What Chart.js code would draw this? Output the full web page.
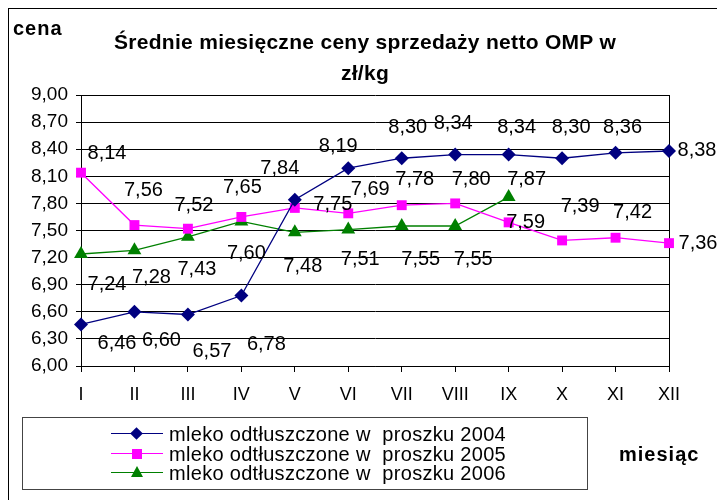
<!DOCTYPE html>
<html>
<head>
<meta charset="utf-8">
<script src="https://cdn.jsdelivr.net/npm/chart.js@4"></script>
<style>
  html, body { margin: 0; padding: 0; background: #fff; }
  #wrap { position: relative; width: 717px; height: 500px; overflow: hidden; font-family: "Liberation Sans", Arial, sans-serif; color: #000; }
  #frame { position: absolute; left: 8px; top: 8px; width: 800px; height: 600px; border-left: 1px solid #000; border-top: 1px solid #000; }
  canvas { position: absolute; left: 0; top: 0; }
  .title { position: absolute; left: 0; width: 730px; text-align: center; font-weight: bold; font-size: 21px; letter-spacing: 0.3px; }
  .ax { position: absolute; font-weight: bold; font-size: 20px; letter-spacing: 1px; }
  #legend { position: absolute; left: 22px; top: 417px; width: 564px; height: 71px; border: 1px solid #444; }
  .row { position: absolute; left: 88px; height: 20px; font-size: 20px; line-height: 20px; white-space: pre; letter-spacing: 0.3px; }
  .row .ln { position: absolute; left: 0; top: 9px; width: 52px; height: 0; border-top: 1.5px solid; }
  .row .mk { position: absolute; }
  .row .tx { position: absolute; left: 58px; top: 0; }
</style>
</head>
<body>
<div id="wrap">
  <div id="frame"></div>
  <canvas id="c" width="717" height="500"></canvas>
  <div class="title" style="top:30px">Średnie miesięczne ceny sprzedaży netto OMP w</div>
  <div class="title" style="top:61px">zł/kg</div>
  <div class="ax" style="left:13px; top:17px">cena</div>
  <div class="ax" style="left:619px; top:443px">miesiąc</div>
  <div id="legend"></div>
</div>
<script>
// miesiące
const months = ["I", "II", "III", "IV", "V", "VI", "VII", "VIII", "IX", "X", "XI", "XII"];
const yTicks = [6.0, 6.3, 6.6, 6.9, 7.2, 7.5, 7.8, 8.1, 8.4, 8.7, 9.0];

// ceny zł/kg
const seriesNames = ["mleko odtłuszczone w  proszku 2004", "mleko odtłuszczone w  proszku 2005", "mleko odtłuszczone w  proszku 2006"];
const omp2004 = [6.46, 6.60, 6.57, 6.78, 7.84, 8.19, 8.30, 8.34, 8.34, 8.30, 8.36, 8.38];
const omp2005 = [8.14, 7.56, 7.52, 7.65, 7.75, 7.69, 7.78, 7.80, 7.59, 7.39, 7.42, 7.36];
const omp2006 = [7.24, 7.28, 7.43, 7.60, 7.48, 7.51, 7.55, 7.55, 7.87];

// przesunięcia etykiet (px) względem punktu
const off2004 = [[36,19],[27,29],[24,37],[25,49],[-15,-31],[-10,-22],[6,-31],[-2,-31],[8,-27],[9,-31],[7,-25],[28,-1]];
const off2005 = [[26,-19],[9,-35],[6,-23],[1,-29],[38,-3],[22,-24],[13,-26],[16,-24],[17,0],[18,-34],[17,-25],[29,0]];
const off2006 = [[26,30],[17,27],[9,33],[5,32],[8,34],[12,30],[19,34],[18,34],[18,-18]];

const FONT = '"Liberation Sans", Arial, sans-serif';
const fmt = (v) => v.toFixed(2).replace(".", ",");

const styles = [
  { color: "#000080", point: "rectRot", r: 7, off: off2004 },
  { color: "#FF00FF", point: "rect", r: 7, off: off2005 },
  { color: "#008000", point: "triangle", r: 8, off: off2006 },
];
const values = [omp2004, omp2005, omp2006];

const labelsPlugin = {
  id: "valueLabels",
  afterDatasetsDraw(chart) {
    const ctx = chart.ctx;
    ctx.save();
    ctx.font = "20px " + FONT;
    ctx.fillStyle = "#000";
    ctx.textAlign = "center";
    ctx.textBaseline = "middle";
    chart.data.datasets.forEach((ds, i) => {
      chart.getDatasetMeta(i).data.forEach((pt, j) => {
        const o = styles[i].off[j] || [0, -20];
        ctx.fillText(fmt(ds.data[j]), pt.x + o[0], pt.y + o[1]);
      });
    });
    ctx.restore();
  },
};

const framePlugin = {
  id: "plotFrame",
  beforeDatasetsDraw(chart) {
    const a = chart.chartArea, ctx = chart.ctx;
    ctx.save();
    ctx.strokeStyle = "#000";
    ctx.lineWidth = 1;
    ctx.beginPath();
    ctx.moveTo(Math.round(a.right) + 0.5, a.top);
    ctx.lineTo(Math.round(a.right) + 0.5, a.bottom);
    ctx.stroke();
    ctx.restore();
  },
};

new Chart(document.getElementById("c"), {
  type: "line",
  data: {
    labels: months,
    datasets: values.map((d, i) => ({
      label: seriesNames[i],
      data: d,
      borderColor: styles[i].color,
      backgroundColor: styles[i].color,
      borderWidth: 1.3,
      pointStyle: styles[i].point,
      pointRadius: styles[i].r,
      pointBorderWidth: 0,
      tension: 0,
      clip: false,
    })),
  },
  options: {
    responsive: false,
    animation: false,
    layout: { padding: { left: 0, top: 95, right: 48, bottom: 0 } },
    plugins: { legend: { display: false }, tooltip: { enabled: false } },
    scales: {
      x: {
        offset: false,
        afterFit: (s) => { s.height = 134; },
        grid: { drawOnChartArea: false, drawTicks: true, tickLength: 6, color: "#000" },
        border: { color: "#000" },
        ticks: { color: "#000", font: { family: FONT, size: 18 }, padding: 12, maxRotation: 0, autoSkip: false },
      },
      y: {
        min: yTicks[0],
        max: yTicks[yTicks.length - 1],
        afterFit: (s) => { s.width = 81; },
        afterBuildTicks: (s) => { s.ticks = yTicks.map((v) => ({ value: v })); },
        grid: { color: "#000", lineWidth: 1, tickLength: 5 },
        border: { color: "#000" },
        ticks: { color: "#000", font: { family: FONT, size: 19 }, padding: 8, callback: (v) => fmt(v) },
      },
    },
  },
  plugins: [labelsPlugin, framePlugin],
});

// legenda
const leg = document.getElementById("legend");
const rowTops = [6, 26, 45];
values.forEach((_, i) => {
  const st = styles[i];
  const row = document.createElement("div");
  row.className = "row";
  row.style.top = rowTops[i] + "px";
  let mk;
  if (st.point === "rectRot") mk = `<div class="mk" style="left:21px;top:5px;width:9px;height:9px;background:${st.color};transform:rotate(45deg)"></div>`;
  else if (st.point === "rect") mk = `<div class="mk" style="left:21px;top:5px;width:10px;height:10px;background:${st.color}"></div>`;
  else mk = `<div class="mk" style="left:20px;top:3px;width:0;height:0;border-left:6px solid transparent;border-right:6px solid transparent;border-bottom:11px solid ${st.color}"></div>`;
  row.innerHTML = `<div class="ln" style="border-color:${st.color}"></div>${mk}<span class="tx">${seriesNames[i]}</span>`;
  leg.appendChild(row);
});
</script>
</body>
</html>
